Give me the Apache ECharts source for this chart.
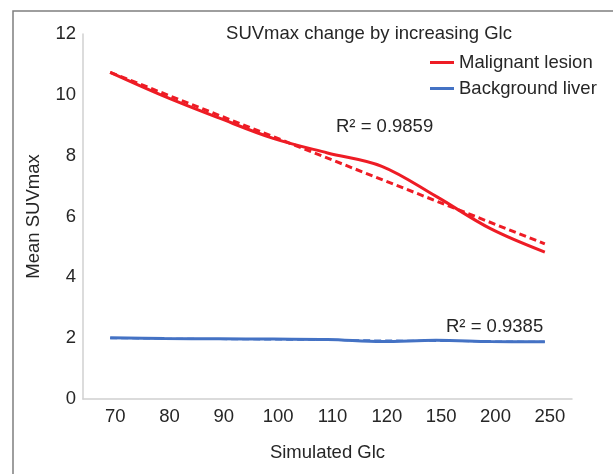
<!DOCTYPE html>
<html>
<head>
<meta charset="utf-8">
<script src="https://cdn.jsdelivr.net/npm/echarts@6/dist/echarts.min.js"></script>
<style>
html,body{margin:0;padding:0;background:#fff;}
#chart{width:613px;height:474px;}
</style>
</head>
<body>
<div id="chart"></div>
<script>
var categories = ['70', '80', '90', '100', '110', '120', '150', '200', '250'];
var malignant = [10.74, 9.95, 9.24, 8.57, 8.09, 7.65, 6.66, 5.60, 4.83];
var liver = [2.01, 1.99, 1.98, 1.97, 1.96, 1.89, 1.93, 1.89, 1.88];
var malignantTrend = [10.74, null, null, null, null, null, null, null, 5.10];
var liverTrend = [2.00, null, null, null, null, null, null, null, 1.88];
var yTicks = [0, 2, 4, 6, 8, 10, 12];
var r2Malignant = 'R² = 0.9859';
var r2Liver = 'R² = 0.9385';

var FONT = 'Liberation Sans, Arial, sans-serif';
var FS = 18.5;
var RED = '#ee1c25';
var BLUE = '#4472c4';

var chart = echarts.init(document.getElementById('chart'));
chart.setOption({
  animation: false,
  backgroundColor: '#fff',
  title: {
    text: 'SUVmax change by increasing Glc',
    left: 364, top: 19, textAlign: 'center',
    textStyle: {fontFamily: FONT, fontSize: FS, fontWeight: 'normal', color: '#262626'}
  },
  legend: {
    orient: 'vertical',
    left: 430, top: 53, padding: 0,
    itemWidth: 24, itemHeight: 3, itemGap: 7,
    icon: 'rect',
    textStyle: {fontFamily: FONT, fontSize: FS, color: '#262626'},
    data: ['Malignant lesion', 'Background liver']
  },
  grid: {left: 83, right: 41, top: 34, bottom: 75, containLabel: false},
  xAxis: {
    type: 'category',
    data: categories,
    boundaryGap: true,
    name: 'Simulated Glc',
    nameLocation: 'middle',
    nameGap: 44,
    nameTextStyle: {fontFamily: FONT, fontSize: FS, color: '#262626'},
    axisLine: {lineStyle: {color: '#d0d0d0', width: 1.5}},
    axisTick: {show: false},
    axisLabel: {fontFamily: FONT, fontSize: FS, color: '#262626', margin: 8, padding: [0, 0, 0, 10]},
    splitLine: {show: false}
  },
  yAxis: {
    type: 'value',
    min: yTicks[0], max: yTicks[yTicks.length - 1], interval: 2,
    name: 'Mean SUVmax',
    nameLocation: 'middle',
    nameGap: 40,
    nameTextStyle: {fontFamily: FONT, fontSize: FS, color: '#262626'},
    axisLine: {show: true, lineStyle: {color: '#d0d0d0', width: 1.5}},
    axisTick: {show: false},
    axisLabel: {fontFamily: FONT, fontSize: FS, color: '#262626', margin: 7},
    splitLine: {show: false}
  },
  series: [
    {
      name: 'Malignant lesion', type: 'line', data: malignant, smooth: 0.35,
      showSymbol: false, symbol: 'none', z: 3,
      itemStyle: {color: RED},
      lineStyle: {color: RED, width: 3}
    },
    {
      name: 'Background liver', type: 'line', data: liver, smooth: 0.35,
      showSymbol: false, symbol: 'none', z: 3,
      itemStyle: {color: BLUE},
      lineStyle: {color: BLUE, width: 3}
    },
    {
      name: 'Malignant trend', type: 'line', data: malignantTrend, connectNulls: true,
      showSymbol: false, symbol: 'none', z: 2,
      lineStyle: {color: RED, width: 3, type: [7, 4]}
    },
    {
      name: 'Liver trend', type: 'line', data: liverTrend, connectNulls: true,
      showSymbol: false, symbol: 'none', z: 2,
      lineStyle: {color: BLUE, width: 2, type: [7, 4]}
    }
  ],
  graphic: [
    {type: 'rect', shape: {x: 13, y: 11, width: 700, height: 600},
     style: {fill: 'none', stroke: '#7f7f7f', lineWidth: 1.5}, silent: true},
    {type: 'text', left: 336, top: 117,
     style: {text: r2Malignant, font: FS + 'px ' + FONT, fill: '#262626'}},
    {type: 'text', left: 446, top: 317,
     style: {text: r2Liver, font: FS + 'px ' + FONT, fill: '#262626'}}
  ]
});
</script>
</body>
</html>
